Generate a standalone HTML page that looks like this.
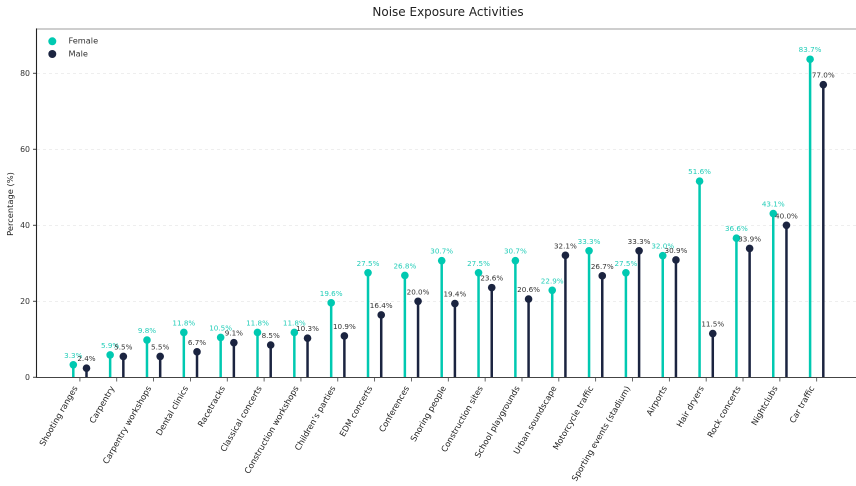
<!DOCTYPE html>
<html><head><meta charset="utf-8"><style>
html,body{margin:0;padding:0;background:#fff;}
svg{display:block;font-family:"DejaVu Sans","Liberation Sans",sans-serif;}
</style></head><body>
<svg id="c" width="856" height="486" viewBox="0 0 856 486" xmlns="http://www.w3.org/2000/svg">
<rect width="856" height="486" fill="#fff"/>
<text x="448" y="16" font-size="12" text-anchor="middle" fill="#222">Noise Exposure Activities</text>
<g id="grid" stroke="#e4e4e4" stroke-width="0.7" stroke-dasharray="3,3">
<line x1="37" x2="856" y1="301.3" y2="301.3"/>
<line x1="37" x2="856" y1="225.3" y2="225.3"/>
<line x1="37" x2="856" y1="149.3" y2="149.3"/>
<line x1="37" x2="856" y1="73.3" y2="73.3"/>
</g>
<line x1="36" x2="856" y1="29" y2="29" stroke="#bdbdbd" stroke-width="1.5"/>
<line x1="36.5" x2="36.5" y1="28.5" y2="377.8" stroke="#222" stroke-width="1.1"/>
<line x1="36" x2="856" y1="377.5" y2="377.5" stroke="#444" stroke-width="1.1"/>
<g font-size="7.8" fill="#333" text-anchor="end">
<line x1="33" x2="36" y1="377.3" y2="377.3" stroke="#444"/><text x="30" y="380">0</text>
<line x1="33" x2="36" y1="301.3" y2="301.3" stroke="#444"/><text x="30" y="304">20</text>
<line x1="33" x2="36" y1="225.3" y2="225.3" stroke="#444"/><text x="30" y="228">40</text>
<line x1="33" x2="36" y1="149.3" y2="149.3" stroke="#444"/><text x="30" y="152">60</text>
<line x1="33" x2="36" y1="73.3" y2="73.3" stroke="#444"/><text x="30" y="76">80</text>
</g>
<text transform="translate(13,204) rotate(-90)" font-size="8.3" text-anchor="middle" fill="#222">Percentage (%)</text>
<circle cx="52.3" cy="41.3" r="4" fill="#00C9B1"/>
<circle cx="52.3" cy="54" r="4" fill="#1B2440"/>
<text x="68.5" y="43.5" font-size="8.2" fill="#333">Female</text>
<text x="68.5" y="56.5" font-size="8.2" fill="#333">Male</text>
<g id="data"></g>
</svg>
<script>
var cats=["Shooting ranges","Carpentry","Carpentry workshops","Dental clinics","Racetracks","Classical concerts","Construction workshops","Children’s parties","EDM concerts","Conferences","Snoring people","Construction sites","School playgrounds","Urban soundscape","Motorcycle traffic","Sporting events (stadium)","Airports","Hair dryers","Rock concerts","Nightclubs","Car traffic"];
var f=[3.3,5.9,9.8,11.8,10.5,11.8,11.8,19.6,27.5,26.8,30.7,27.5,30.7,22.9,33.3,27.5,32.0,51.6,36.6,43.1,83.7];
var m=[2.4,5.5,5.5,6.7,9.1,8.5,10.3,10.9,16.4,20.0,19.4,23.6,20.6,32.1,26.7,33.3,30.9,11.5,33.9,40.0,77.0];
var s="";
function Y(v){return 377.3-v*3.8;}
for(var i=0;i<cats.length;i++){
 var c=79.9+i*36.84, xf=c-6.6, xm=c+6.6, yf=Y(f[i]), ym=Y(m[i]);
 s+='<line x1="'+xf+'" x2="'+xf+'" y1="377" y2="'+yf+'" stroke="#00C9B1" stroke-width="2.5"/>';
 s+='<circle cx="'+xf+'" cy="'+yf+'" r="3.8" fill="#00C9B1"/>';
 s+='<line x1="'+xm+'" x2="'+xm+'" y1="377" y2="'+ym+'" stroke="#1B2440" stroke-width="2.5"/>';
 s+='<circle cx="'+xm+'" cy="'+ym+'" r="3.8" fill="#1B2440"/>';
 s+='<text x="'+xf+'" y="'+(yf-7)+'" font-size="7.2" text-anchor="middle" fill="#22CDB8">'+f[i].toFixed(1)+'%</text>';
 s+='<text x="'+xm+'" y="'+(ym-7)+'" font-size="7.2" text-anchor="middle" fill="#333">'+m[i].toFixed(1)+'%</text>';
 s+='<line x1="'+c+'" x2="'+c+'" y1="378" y2="381.5" stroke="#444" stroke-width="0.8"/>';
 s+='<text transform="translate('+(c-2)+',388) rotate(-60)" font-size="8.3" text-anchor="end" fill="#222">'+cats[i]+'</text>';
}
document.getElementById("data").innerHTML=s;
</script>
</body></html>
